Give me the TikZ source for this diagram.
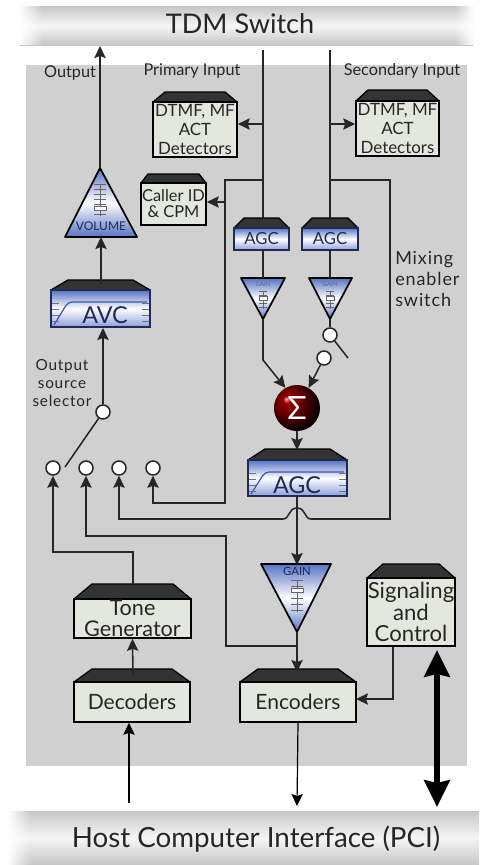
\documentclass[tikz,border=0pt]{standalone}
\usepackage{fontspec}
\setmainfont{Lato}
\newfontfamily\wideface[LetterSpace=5]{Lato}
\usetikzlibrary{arrows.meta,calc,fadings}
\definecolor{panel}{HTML}{D0D0D0}
\definecolor{ink}{HTML}{262626}
\definecolor{boxfill}{HTML}{E3E7DE}
\definecolor{capdark}{HTML}{333333}
\definecolor{bluedark}{HTML}{5673C4}
\definecolor{bluemid}{HTML}{8CA0DC}
\definecolor{curveblue}{HTML}{3A55B8}
\definecolor{navy}{HTML}{1E2A58}
\definecolor{barg}{HTML}{C6C6C6}
\definecolor{barl}{HTML}{F6F6F6}
\pgfdeclareradialshading{sigball}{\pgfpoint{-12bp}{10bp}}{color(0bp)=(red!30!white); color(4bp)=(red!60!black); color(16bp)=(red!35!black); color(30bp)=(black); color(50bp)=(black)}
\tikzset{
  wire/.style={draw=ink,line width=1.15pt},
  arr/.style={wire,-{Stealth[length=9pt,width=8.5pt,inset=1.5pt]}},
  thin arr/.style={draw=black,line width=.9pt,-{Stealth[length=9pt,width=8.5pt,inset=1.5pt]}},
  body/.style={draw=black,line width=1.2pt,fill=boxfill,inner sep=0pt,align=center,text=ink},
  bluebody/.style={draw=navy,line width=1.2pt,top color=bluedark,bottom color=bluemid,middle color=white,inner sep=0pt,align=center,text=navy},
  topcap/.style={fill=capdark,draw=black,line width=1pt,line join=round},
  tri/.style={draw=black,line width=1.3pt,line join=round,top color=bluedark,bottom color=bluedark,middle color=white},
  pole/.style={circle,draw=ink,line width=1.15pt,fill=white,minimum size=10.5pt,inner sep=0pt},
  lab/.style={inner sep=0pt,text=ink,align=center},
  fad/.style={draw=black!60,line width=.4pt},
}
% name, x1, x2, ytop, yshoulder, ybottom, inset, style, font, text
\newcommand{\capbox}[9]{%
  \pgfmathsetmacro{\mx}{(#2+#3)/2}\pgfmathsetmacro{\my}{(#5+#6)/2}%
  \pgfmathsetmacro{\bw}{(#3-#2)*.75}\pgfmathsetmacro{\bh}{(#6-#5)*.75}%
  \pgfmathsetmacro{\ia}{#2+#7}\pgfmathsetmacro{\ib}{#3-#7}%
  \path[topcap] (#2,#5) -- (\ia,#4) -- (\ib,#4) -- (#3,#5) -- cycle;%
  \node[#8,minimum width=\bw pt,minimum height=\bh pt,font=#9] (#1) at (\mx,\my)
}
\newcommand{\fader}[6]{% x, y1, y2, step, halfwidth, knob y
  \draw[fad] (#1,#2) -- (#1,#3);
  \foreach \yy in {#2,#4,...,#3} \draw[fad] (#1-#5,\yy) -- (#1+#5,\yy);
  \draw[fad,fill=white,line width=.7pt] (#1-#5,#6-2) rectangle (#1+#5,#6+2);
}
\newcommand{\fs}[2]{\fontsize{#1}{#2}\selectfont}
\begin{document}
\begin{tikzpicture}[x=.75pt,y=-.75pt]
\useasboundingbox (0,0) rectangle (479,865);
\fill[white] (0,0) rectangle (479,865);
\fill[panel] (26,65) rectangle (467,766);
% buses
\shade[top color=barg,bottom color=barg,middle color=barl] (20,6) rectangle (473,45);
\shade[top color=barg,bottom color=barg,middle color=barl] (8,811) rectangle (479,865);
\fill[white,path fading=east] (20,6) rectangle (42,45);
\fill[white,path fading=east] (8,811) rectangle (30,865);
\fill[white,path fading=west] (455,6) rectangle (473,45);
\node[lab,text=black!85,font=\fs{20.3}{23}] (tdm) at (240,24) {TDM Switch};
\node[lab,text=black!85,font=\fs{20.8}{23}] (pci) at (256,839) {Host Computer Interface (PCI)};
% boxes
\capbox{dtmfa}{153}{237}{92}{102}{157}{12}{body}{\fs{12.7}{14}}{DTMF, MF\\ACT\\Detectors};
\capbox{dtmfb}{356}{439}{90}{101}{156}{12}{body}{\fs{12.7}{14}}{DTMF, MF\\ACT\\Detectors};
\capbox{cid}{141}{206}{174}{183}{225}{7}{body}{\fs{12.3}{12}}{Caller ID\\\& CPM};
\capbox{avc}{51}{150}{280}{290}{327}{17}{bluebody}{\fs{17.5}{20}}{};
\capbox{agca}{234}{289}{218}{228}{250}{10}{bluebody}{\fs{12.5}{15}}{AGC};
\capbox{agcb}{302}{358}{218}{228}{250}{10}{bluebody}{\fs{12.5}{15}}{AGC};
\capbox{agcc}{248}{347}{449}{460}{496}{17}{bluebody}{\fs{17.5}{20}}{};
\capbox{tone}{74}{191}{584}{599}{638}{18}{body}{\fs{16.2}{16}}{Tone\\Generator};
\capbox{dec}{74}{190}{669}{682}{722}{18}{body}{\fs{15.8}{18}}{Decoders};
\capbox{enc}{240}{356}{669}{682}{722}{18}{body}{\fs{15.8}{18}}{Encoders};
\capbox{sig}{367}{455}{564}{578}{646}{16}{body}{\fs{16.6}{16}}{Signaling\\and\\Control};
% filter curves
\foreach \xa/\xb/\ya/\yc in {51/150/301/327,248/347/471/496}{
  \draw[curveblue,line width=.9pt,rounded corners=3pt] (\xa+3,\yc-2) -- (\xa+17,\ya+1) -- (\xb-3,\ya+1);
  \foreach \k in {0,1,2,3} {\draw[black!55,line width=.5pt] (\xa+1,\ya+2+6*\k) -- (\xa+8,\ya+2+6*\k);
    \draw[black!55,line width=.5pt] (\xb-8,\ya+2+6*\k) -- (\xb-1,\ya+2+6*\k);}
}
\node[lab,text=navy,font=\fs{17.5}{20}] (avclab) at (105,315) {AVC};
\node[lab,text=navy,font=\fs{17.5}{20}] (agclab) at (297,485) {AGC};
% triangles
\path[tri] (100,168) -- (137,237) -- (65,237) -- cycle;
\fader{100}{184}{216}{189}{6}{208}
\node[lab,text=navy,font=\fs{9}{11}] (vollab) at (101,226) {VOLUME};
\coordinate (volapex) at (100,168); \coordinate (volbase) at (101,237);
\path[tri] (241,278) -- (285,278) -- (263,319) -- cycle;
\fader{263}{291}{309}{295}{4}{298}
\node[lab,text=navy!70,font=\fs{4.5}{5}] (gaina) at (263,284) {GAIN};
\path[tri] (309,278) -- (352,278) -- (330,319) -- cycle;
\fader{330}{291}{309}{295}{4}{298}
\node[lab,text=navy!70,font=\fs{4.5}{5}] (gainb) at (330,284) {GAIN};
\path[tri] (261,564) -- (331,564) -- (297,632) -- cycle;
\fader{297}{580}{612}{586}{6}{590}
\node[lab,text=navy,font=\fs{8.5}{10}] (gainc) at (297,571) {GAIN};
% sigma
\node[circle,minimum size=34.5pt,inner sep=0pt,shading=sigball,text=white,font=\fs{24}{26}] (sum) at (297,408) {Σ};
% switch poles
\node[pole] (pa) at (53,468) {};
\node[pole] (pb) at (86,468) {};
\node[pole] (pc) at (119,468) {};
\node[pole] (pd) at (153,468) {};
\node[pole] (psel) at (103,412) {};
\node[pole] (mixa) at (330,335) {};
\node[pole] (mixb) at (324,358) {};
% named points
\coordinate (pin) at (263,50); \coordinate (sin) at (330,50);
\coordinate (ptap) at (263,180); \coordinate (stap) at (330,180);
\coordinate (ptapb) at (263,124); \coordinate (stapb) at (330,124);
\coordinate (cidtap) at (225,202);
\coordinate (outtip) at (100,46);
\coordinate (swa) at (65,467); \coordinate (mixend) at (348,358);
\coordinate (busdec) at (129,803); \coordinate (busenc) at (297,806);
\coordinate (thicka) at (437,650); \coordinate (thickb) at (437,807);
\coordinate (encin) at (356,699); \coordinate (sigout) at (393,646);
% connectors
\draw[arr] (volapex) -- (outtip);
\draw[arr] (101,284) -- (volbase);
\draw[arr] (psel) -- (103,328);
\draw[wire] (psel) -- (swa);
\draw[wire] (pin) -- (263,218);
\draw[wire] (sin) -- (330,218);
\draw[arr] (ptapb) -- (dtmfa.east |- ptapb);
\draw[arr] (stapb) -- (dtmfb.west |- stapb);
\draw[arr] (cidtap) -- (cid.east |- cidtap);
\draw[wire] (263,250) -- (263,278);
\draw[wire] (330,250) -- (330,278);
\draw[arr] (263,319) -- (263,360) -- (sum.120);
\draw[wire] (330,319) -- (mixa);
\draw[wire] (mixa) -- (mixend);
\draw[arr] (mixb) -- (sum.60);
\draw[arr] (sum) -- (297,450);
\draw[arr] (297,496) -- (297,565);
\draw[arr] (297,632) -- (297,672);
\draw[arr] (ptap) -- (225,180) -- (225,503) -- (153,503) -- (pd);
\draw[arr] (stap) -- (390,180) -- (390,519) -- (311,519) .. controls (304,519) and (306,508) .. (297,508) .. controls (288,508) and (290,519) .. (283,519) -- (119,519) -- (pc);
\draw[arr] (297,646) -- (226,646) -- (226,536) -- (86,536) -- (pb);
\draw[arr] (133,584) -- (133,552) -- (53,552) -- (pa);
\draw[arr] (133,676) -- (tone.south);
\draw[thin arr] (busdec) -- (dec.south -| busdec);
\draw[thin arr] (enc.south) -- (busenc);
\draw[arr] (sig.south -| sigout) -- (393,699) -- (encin);
\draw[line width=4.4pt,{Stealth[length=20pt,width=19pt,inset=2pt]}-{Stealth[length=20pt,width=19pt,inset=2pt]}] (thicka) -- (thickb);
% labels
\node[lab,font=\fs{12.2}{13}] (lout) at (70,73) {Output};
\node[lab,font=\fs{12.2}{13}] (lpri) at (192,71) {Primary Input};
\node[lab,font=\fs{12.2}{13}] (lsec) at (402,71) {Secondary Input};
\node[lab,font=\wideface\fs{13.5}{16},align=left,anchor=west] (lmix) at (395,279) {Mixing\\enabler\\switch};
\node[lab,font=\wideface\fs{11.5}{13.6}] (lsel) at (62,383) {Output\\source\\selector};
\end{tikzpicture}
\end{document}
